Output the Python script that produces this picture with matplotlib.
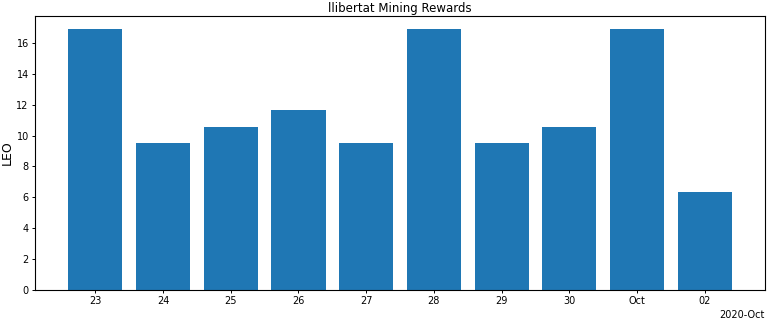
import matplotlib
matplotlib.use("Agg")
import matplotlib.pyplot as plt
import matplotlib.dates as mdates
import numpy as np
import datetime as dt

dates = ["2020-09-23", "2020-09-24", "2020-09-25", "2020-09-26", "2020-09-27",
         "2020-09-28", "2020-09-29", "2020-09-30", "2020-10-01", "2020-10-02"]
values = [16.9, 9.53, 10.57, 11.67, 9.53, 16.9, 9.53, 10.57, 16.9, 6.34]
title = "llibertat Mining Rewards"
ylabel = "LEO"

x = [dt.datetime.strptime(d, "%Y-%m-%d") for d in dates]

fig = plt.figure(figsize=(7.68, 3.2), dpi=100)
ax = fig.add_axes([0.0456, 0.094, 0.9506, 0.856])
ax.bar(x, values, width=0.8, color="#1f77b4")
loc = mdates.DayLocator()
ax.xaxis.set_major_locator(loc)
ax.xaxis.set_major_formatter(mdates.ConciseDateFormatter(loc))
ax.tick_params(labelsize=7, length=2.5, pad=2, width=0.7)
ax.xaxis.get_offset_text().set_fontsize(7)
for s in ax.spines.values():
    s.set_linewidth(0.8)
ax.set_title(title, fontsize=8.5, pad=3)
ax.set_ylabel(ylabel, fontsize=9, labelpad=2)
fig.savefig("out.png", dpi=100)
